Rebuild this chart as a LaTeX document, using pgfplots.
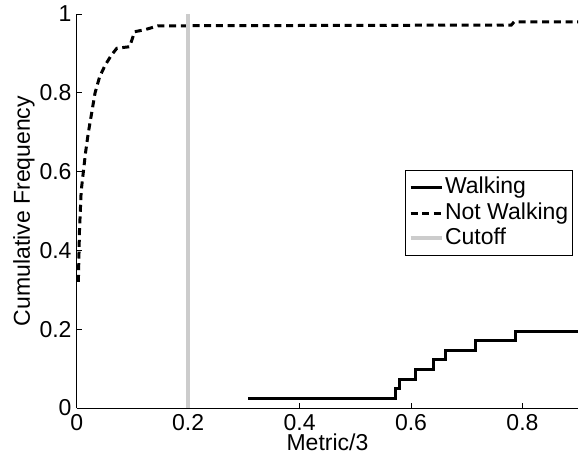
\documentclass[border=0pt]{standalone}
\usepackage{fontspec}
\setmainfont{Liberation Sans}
\usepackage{pgfplots}
\pgfplotsset{compat=1.18}
\definecolor{cutgray}{RGB}{204,204,204}
\newcommand{\chartfont}{\fontsize{23pt}{27pt}\selectfont}
\begin{document}
\chartfont
\begin{tikzpicture}
\useasboundingbox (-76.7pt,-48.7pt) rectangle (506.3pt,408pt);
\begin{axis}[
  scale only axis,
  width=501.5pt, height=394pt,
  xmin=0, xmax=0.9, ymin=0, ymax=1,
  axis x line*=bottom, axis y line*=left,
  axis line style={black, line width=0.8pt, -},
  xtick={0,0.2,0.4,0.6,0.8},
  xticklabels={0,0.2,0.4,0.6,0.8},
  ytick={0,0.2,0.4,0.6,0.8,1},
  yticklabels={0,0.2,0.4,0.6,0.8,1},
  tick align=inside,
  major tick length=5pt,
  tick style={black, line width=0.6pt},
  ticklabel style={font=\chartfont},
  xticklabel style={anchor=base, inner sep=0pt, yshift=-23pt},
  yticklabel style={anchor=east, inner sep=0pt, xshift=-5pt},
  xlabel={Metric/3},
  ylabel={Cumulative Frequency},
  label style={font=\chartfont},
  xlabel style={at={(axis description cs:0.5,0)}, anchor=base, inner sep=0pt, yshift=-43pt},
  ylabel style={at={(axis description cs:0,0.5)}, anchor=center, yshift=52.7pt},
  clip=false,
  legend cell align=left,
  legend image code/.code={\draw[#1] (0pt,0pt) -- (31pt,0pt);},
  legend style={at={(axis description cs:0.655,0.604)}, anchor=north west,
    draw=black, line width=0.8pt, fill=white,
    font=\chartfont,
    inner xsep=3pt, inner ysep=4.5pt, row sep=0pt,
    nodes={inner xsep=1.5pt, inner ysep=2.7pt, text height=16pt, text depth=4pt, line width=0pt},
  },
]
\addplot[black, line width=3pt, const plot] coordinates {
 (0.308,0.0244) (0.572,0.0488) (0.580,0.0732) (0.608,0.0976)
 (0.640,0.1220) (0.661,0.1463) (0.715,0.1707) (0.788,0.1951) (0.9,0.1951)
};
\addlegendentry{Walking}
\addplot[black, line width=3pt, dash pattern=on 7pt off 4.7pt] coordinates {
 (0.003,0.32) (0.005,0.45) (0.008,0.55) (0.012,0.60) (0.016,0.65)
 (0.021,0.70) (0.027,0.75) (0.033,0.80) (0.041,0.84) (0.051,0.87)
 (0.062,0.895) (0.072,0.913) (0.095,0.917) (0.104,0.955) (0.122,0.96)
 (0.146,0.97) (0.780,0.972) (0.785,0.98) (0.9,0.98)
};
\addlegendentry{Not Walking}
\addplot[cutgray, line width=4pt] coordinates {(0.2,0) (0.2,1)};
\addlegendentry{Cutoff}
\end{axis}
\end{tikzpicture}
\end{document}
